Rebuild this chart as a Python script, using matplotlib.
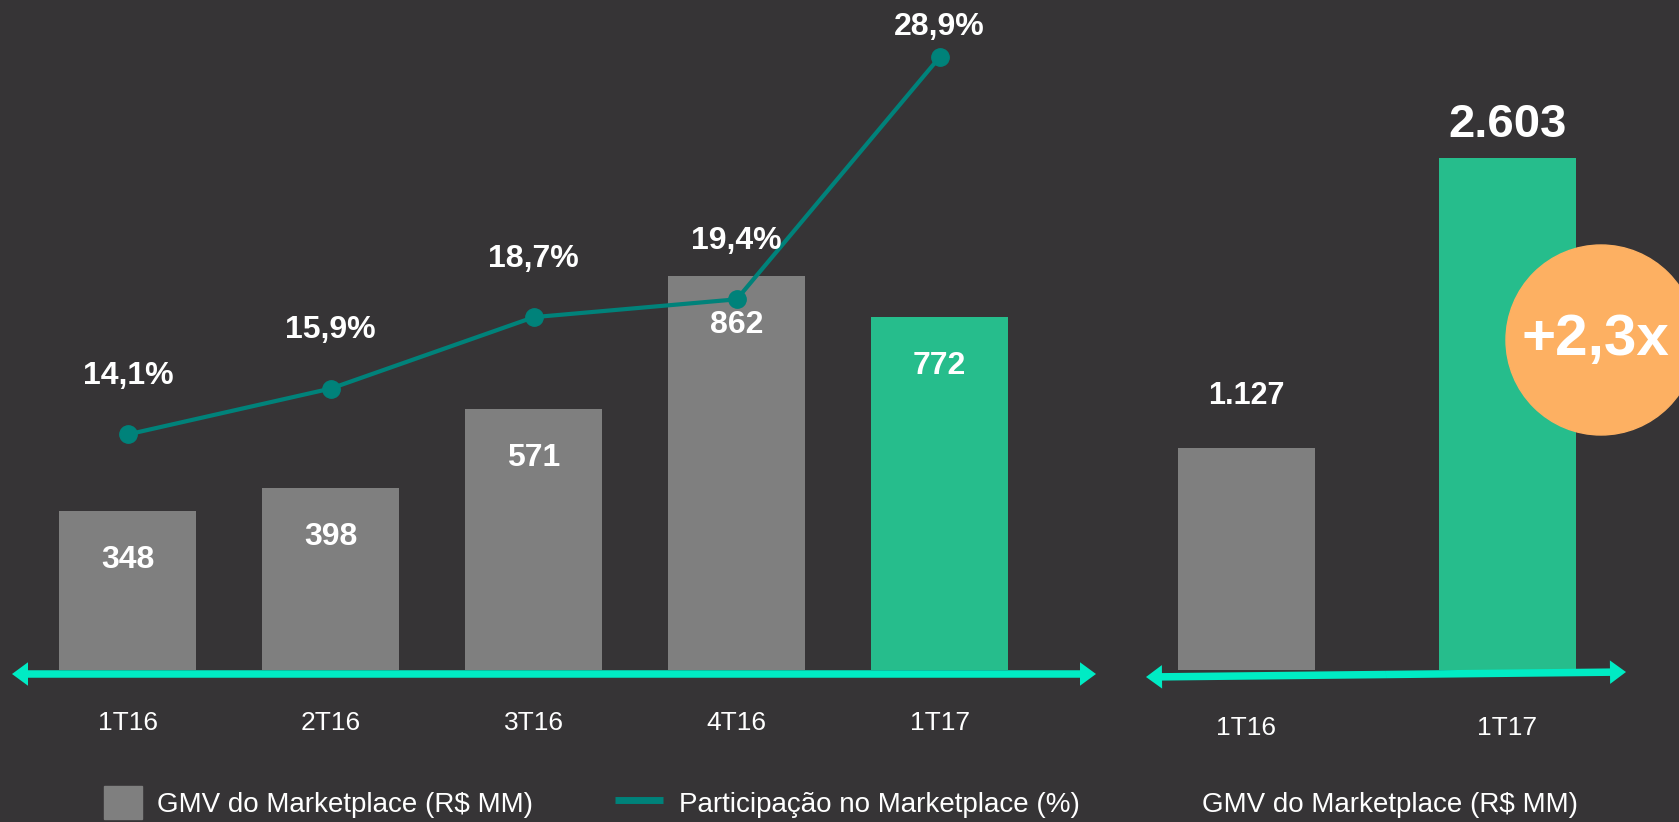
"""
GMV do Marketplace por trimestre e participação no Marketplace
"""
import matplotlib
matplotlib.use("Agg")
import matplotlib.pyplot as plt
import matplotlib.patches as mpatches
from matplotlib.lines import Line2D
from matplotlib.legend_handler import HandlerPatch

plt.rcParams["font.family"] = ["Liberation Sans", "DejaVu Sans"]

# ── dados ─────────────────────────────────────
trimestres = ["1T16", "2T16", "3T16", "4T16", "1T17"]
gmv_marketplace = [348, 398, 571, 862, 772]          # R$ MM
participacao = [14.1, 15.9, 18.7, 19.4, 28.9]        # %

trimestres_comp = ["1T16", "1T17"]
gmv_comp = [1127, 2603]                              # R$ MM
crescimento = "+2,3x"

rotulo_gmv = "GMV do Marketplace (R$ MM)"
rotulo_part = "Participação no Marketplace (%)"

# ── estilo ────────────────────────────────────
FUNDO = "#363436"
CINZA = "#7F7F7F"
VERDE = "#26BD8C"
TEAL = "#00827A"
CIANO = "#00EBC4"
LARANJA = "#FDB062"

W, H = 1679, 822
fig = plt.figure(figsize=(W / 100, H / 100), dpi=100, facecolor=FUNDO)


def eixo_px(x0, y0, x1, y1):
    """Cria um eixo a partir de uma caixa em pixels (origem no canto superior esquerdo)."""
    ax = fig.add_axes([x0 / W, 1 - y1 / H, (x1 - x0) / W, (y1 - y0) / H])
    ax.set_facecolor("none")
    ax.set_frame_on(False)
    ax.set_yticks([])
    return ax


def seta_dupla(x0, y0, x1, y1):
    """Seta com ponta nos dois lados (coordenadas em pixels, origem no topo)."""
    xm, ym = (x0 + x1) / 2, (y0 + y1) / 2
    for xa, ya in ((x0, y0), (x1, y1)):
        fig.add_artist(mpatches.FancyArrow(
            xm / 100, (H - ym) / 100, (xa - xm) / 100, (ym - ya) / 100,
            width=0.075, head_width=0.235, head_length=0.16, length_includes_head=True,
            transform=fig.dpi_scale_trans, color=CIANO, lw=0, zorder=4))


def formata_pct(v):
    return f"{v:.1f}".replace(".", ",") + "%"


def formata_mil(v):
    return f"{v:,}".replace(",", ".")


# ── painel esquerdo: barras trimestrais + linha ──
ax1 = eixo_px(0, 0, 1100, 670)
x = list(range(len(trimestres)))
cores = [CINZA] * (len(trimestres) - 1) + [VERDE]
ax1.bar(x, gmv_marketplace, width=0.675, color=cores)
ax1.set_xlim(-0.63, 4.79)
ax1.set_ylim(0, 1466)
ax1.set_xticks(x, trimestres)
ax1.tick_params(axis="x", length=0, pad=29.5, labelsize=19, labelcolor="white")
for xi, v in zip(x, gmv_marketplace):
    ax1.annotate(str(v), (xi, v), xytext=(0, -35), textcoords="offset points",
                 ha="center", va="center", color="white", fontsize=23, fontweight="bold")

ax2 = ax1.twinx()
ax2.set_frame_on(False)
ax2.set_yticks([])
ax2.plot(x, participacao, color=TEAL, lw=3, marker="o", ms=12.5)
ax2.set_ylim(4.86, 31.14)
for i, (xi, v) in enumerate(zip(x, participacao)):
    dy = 42 if i < len(participacao) - 1 else 22
    ax2.annotate(formata_pct(v), (xi, v), xytext=(0, dy), textcoords="offset points",
                 ha="center", va="center", color="white", fontsize=23, fontweight="bold")

seta_dupla(12, 674, 1096, 674)

# ── painel direito: comparação 1T16 x 1T17 ──
ax3 = eixo_px(1100, 0, 1679, 670)
xc = list(range(len(trimestres_comp)))
ax3.bar(xc, gmv_comp, width=0.525, color=[CINZA, VERDE])
ax3.set_xlim(-0.561, 1.657)
ax3.set_ylim(0, 3406)
ax3.set_xticks(xc, trimestres_comp)
ax3.tick_params(axis="x", length=0, pad=33, labelsize=19, labelcolor="white")
for xi, v, fs, dy in zip(xc, gmv_comp, [22, 34], [38, 24]):
    ax3.annotate(formata_mil(v), (xi, v), xytext=(0, dy), textcoords="offset points",
                 ha="center", va="center", color="white", fontsize=fs, fontweight="bold")

seta_dupla(1146, 677, 1626, 672)

# selo de crescimento
fig.add_artist(mpatches.Circle((16.01, (H - 340) / 100), 0.95, transform=fig.dpi_scale_trans,
                               color=LARANJA, zorder=5))
fig.text(15.95, (H - 340) / 100, crescimento, transform=fig.dpi_scale_trans, ha="center",
         va="center", color="white", fontsize=42, fontweight="bold", zorder=6)


# ── legendas ──────────────────────────────────
def quadrado(legend, orig_handle, xdescent, ydescent, width, height, fontsize):
    lado, alt = 27.4, 23.8
    return mpatches.Rectangle((width - lado - xdescent, -ydescent + (height - alt) / 2), lado, alt)


fig.legend(handles=[mpatches.Patch(color=CINZA, label=rotulo_gmv),
                    Line2D([], [], color=TEAL, lw=5, solid_capstyle="butt", label=rotulo_part)],
           handler_map={mpatches.Patch: HandlerPatch(patch_func=quadrado)},
           loc="center left", bbox_to_anchor=(93 / W, 1 - 803 / H), ncol=2, frameon=False,
           fontsize=20, labelcolor="white", handlelength=1.76, handleheight=1.19,
           handletextpad=0.55, columnspacing=2.93, borderpad=0, borderaxespad=0)

fig.text(1390 / W, 1 - 805 / H, rotulo_gmv, ha="center", va="center", fontsize=20, color="white")

fig.savefig("out.png", dpi=100, facecolor=FUNDO)
